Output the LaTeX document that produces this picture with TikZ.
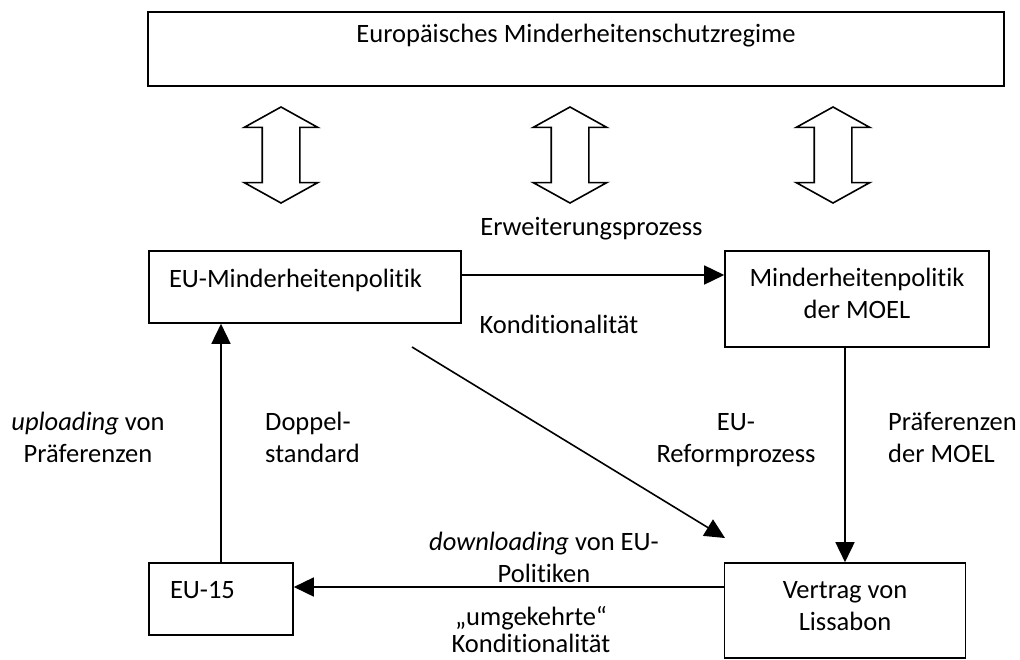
\documentclass[tikz,border=0pt]{standalone}
\usepackage{fontspec}
\setmainfont{Carlito}[Ligatures={TeX,NoCommon}]
\usetikzlibrary{arrows.meta,shapes.arrows}
\newcommand{\dfont}{\fontsize{26.5}{32}\selectfont}

\begin{document}
\begin{tikzpicture}[x=1pt,y=-1pt,
  box/.style={draw, line width=1.6pt, inner sep=0pt, font=\dfont},
  arr/.style={-{Triangle[length=20pt,width=19pt]}, line width=1.6pt},
  lbl/.style={inner sep=0pt, font=\dfont},
  dblarr/.style={draw, line width=1.6pt, double arrow, rotate=90, inner xsep=0pt,
    inner ysep=18pt, minimum height=96pt, double arrow head extend=18pt,
    double arrow tip angle=122}]
  \useasboundingbox (0,0) rectangle (1020,659);

  % Top box: the regime
  \node[box, minimum width=856pt, text height=30pt, text depth=44pt]
    (regime) at (576,49) {Europäisches Minderheitenschutzregime};

  % Double arrows between regime and the policies
  \node[dblarr] (dbl1) at (281,155) {};
  \node[dblarr] (dbl2) at (570,155) {};
  \node[dblarr] (dbl3) at (833,155) {};

  % Second row
  \node[box, text width=272pt, inner xsep=20pt, align=left, text height=36pt, text depth=36pt]
    (eumin) at (305,287) {EU-Minderheitenpolitik};
  \node[box, minimum width=264pt, align=center, text height=67pt, text depth=29pt]
    (moel) at (857,299) {Minderheitenpolitik\\der MOEL};

  % Bottom row
  \node[box, text width=102pt, inner xsep=21pt, align=left, text height=35pt, text depth=37pt]
    (eu15) at (221,599) {EU-15};
  \node[box, minimum width=241pt, align=center, text height=67pt, text depth=28pt]
    (vertrag) at (845,610.5) {Vertrag von\\Lissabon};

  % Connector labels (base = last line)
  \node[lbl, anchor=base] (erw) at (591.5,235) {Erweiterungsprozess};
  \node[lbl, anchor=base] (kond) at (559,333) {Konditionalität};
  \node[lbl, anchor=base, align=center] (upl) at (88,462) {\textit{uploading} von\\Präferenzen};
  \node[lbl, anchor=base west, align=left] (dop) at (265,462) {Doppel-\\standard};
  \node[lbl, anchor=base, align=center] (eur) at (736,462) {EU-\\Reformprozess};
  \node[lbl, anchor=base west, align=left] (prf) at (888,462) {Präferenzen\\der MOEL};
  \node[lbl, anchor=base, align=center] (dwn) at (544,582) {\textit{downloading} von EU-\\Politiken};
  \node[lbl, anchor=base, align=center] (umg) at (531,652) {„umgekehrte“\\[-5pt]Konditionalität};

  % Connectors
  \draw[arr] (eumin.east |- 0,275) -- (moel.west |- 0,275);
  \draw[arr] (moel.south -| vertrag.north) -- (vertrag.north);
  \draw[arr] (vertrag.west |- 0,587) -- (eu15.east |- 0,587);
  \draw[arr] (eu15.north) -- (eumin.south -| eu15.north);
  \coordinate (dstart) at (412,347);
  \coordinate (dend) at (725,538);
  \draw[arr] (dstart) -- (dend);
\end{tikzpicture}
\end{document}
